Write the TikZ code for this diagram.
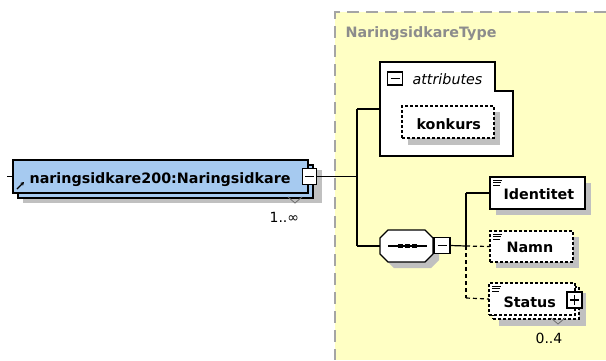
\documentclass[tikz,border=0pt]{standalone}
\usepackage{fontspec}
\setmainfont{DejaVu Sans}
\usetikzlibrary{arrows.meta}
\definecolor{ybg}{RGB}{255,255,196}
\definecolor{blu}{RGB}{166,202,240}
\definecolor{shd}{RGB}{192,192,192}
\definecolor{brd}{RGB}{165,165,165}
\definecolor{ttl}{RGB}{140,140,140}
\definecolor{vgr}{RGB}{110,110,110}
\begin{document}
\begin{tikzpicture}[x=1pt,y=-1pt,line width=1.2pt,
  lbl/.style={inner sep=0pt,anchor=base west,font=\fontsize{14.3}{16}\selectfont\bfseries},
  lblit/.style={inner sep=0pt,anchor=base west,font=\fontsize{14.3}{16}\selectfont\itshape},
  lblm/.style={inner sep=0pt,anchor=base west,font=\fontsize{14}{16}\selectfont},
  ebox/.style={draw,fill=white,rectangle,inner sep=0pt,outer sep=0pt},
  dsh/.style={dash pattern=on 3pt off 2pt},
  cdsh/.style={dash pattern=on 4pt off 3pt},
  icon/.style={draw,fill=white,rectangle,inner sep=0pt,outer sep=0pt,minimum width=14pt,minimum height=16pt},
  menu/.style={line width=0.8pt},
  mult/.style={draw=vgr,line width=0.8pt}]
\useasboundingbox (0,0) rectangle (606,360);
\fill[white] (0,0) rectangle (606,360);
% type region
\fill[ybg] (335,12) rectangle (606,360);
\draw[brd,line width=1.6pt,dash pattern=on 12pt off 7pt] (606,12) -- (335,12) -- (335,360);
\node[inner sep=0pt,anchor=base west,font=\fontsize{14.3}{16}\selectfont\bfseries,text=ttl] (ttype) at (345,37) {NaringsidkareType};

% main element
\fill[shd] (23,170) rectangle (322,203);
\node[ebox,fill=blu,minimum width=295pt,minimum height=33pt] (mback) at (165.5,181.5) {};
\node[ebox,fill=blu,minimum width=295pt,minimum height=33pt] (mfront) at (160.5,176.5) {};
\node[lbl] (mtext) at (29,183) {naringsidkare200:Naringsidkare};
\draw[-{Stealth[length=3.5pt,width=4pt]},line width=1.3pt] (17,189) -- (24,182);
\node[icon] (mminus) at (309.5,176.5) {};
\draw (mminus.center)+(-4.5,0) -- +(4.5,0);
\draw[mult] (288,197) -- (295,203) -- (302,197);
\node[lblm] (mmult) at (269,222) {1..∞};
\coordinate (mstub) at (7,176.5);
\draw (mstub) -- (mfront.west);

% junction
\coordinate (j1) at (357,176.5);
\coordinate (j1top) at (357,109);
\coordinate (j1bot) at (357,246);
\draw (mminus.east) -- (j1);
\draw (j1top) -- (j1bot);

% attributes
\draw[fill=white] (380,62) -- (495,62) -- (495,91) -- (513,91) -- (513,156) -- (380,156) -- cycle;
\coordinate (attrin) at (380,109);
\draw (j1top) -- (attrin);
\node[icon,minimum width=15pt,minimum height=13pt] (aminus) at (395,78.5) {};
\draw (aminus.center)+(-4.5,0) -- +(4.5,0);
\node[lblit] (atext) at (412,84) {attributes};
\fill[shd] (408,112) rectangle (500,145);
\node[ebox,dsh,minimum width=92pt,minimum height=32pt] (konk) at (448,122) {};
\node[lbl] (ktext) at (416,129) {konkurs};

% sequence
\fill[shd] (394,236) -- (431,236) -- (439,244) -- (439,260) -- (431,268) -- (394,268) -- (386,260) -- (386,244) -- cycle;
\draw[fill=white] (388,230) -- (425,230) -- (433,238) -- (433,254) -- (425,262) -- (388,262) -- (380,254) -- (380,238) -- cycle;
\coordinate (seqin) at (380,246);
\draw (j1bot) -- (seqin);
\draw (388,246) -- (427,246);
\fill (398,244) rectangle (403,248);
\fill (405,244) rectangle (410,248);
\fill (412,244) rectangle (417,248);
\node[icon,minimum width=16pt,minimum height=16pt] (sminus) at (442,245.5) {};
\draw (sminus.center)+(-4.5,0) -- +(4.5,0);

\coordinate (j2) at (466,246);
\coordinate (j2top) at (466,193);
\coordinate (j2bot) at (466,298);
\draw (sminus.east) -- (j2);
\draw (j2top) -- (j2);
\draw[cdsh] (j2) -- (j2bot);

% Identitet
\fill[shd] (496,183) rectangle (591,215);
\node[ebox,line width=1.6pt,minimum width=95pt,minimum height=32pt] (ident) at (537.5,193) {};
\draw[menu] (493,180) -- (502,180) (493,182.5) -- (501,182.5) (493,185) -- (500,185);
\node[lbl] (itext) at (503,199) {Identitet};
\draw (j2top) -- (ident.west);

% Namn
\fill[shd] (496,237) rectangle (579,268);
\node[ebox,dsh,minimum width=83pt,minimum height=31pt] (namn) at (531.5,246.5) {};
\draw[menu] (493,234) -- (502,234) (493,236.5) -- (501,236.5) (493,239) -- (500,239);
\node[lbl] (ntext) at (506,252) {Namn};
\draw[cdsh] (j2) -- (namn.west);

% Status
\fill[shd] (499,293) rectangle (586,326);
\node[ebox,dsh,minimum width=86pt,minimum height=32pt] (sback) at (536,303) {};
\node[ebox,dsh,minimum width=86pt,minimum height=32pt] (status) at (532,299) {};
\draw[menu] (492,286) -- (501,286) (492,288.5) -- (500,288.5) (492,291) -- (499,291);
\node[lbl] (stext) at (503,307) {Status};
\node[icon,minimum width=15pt,minimum height=16pt] (splus) at (574.5,300) {};
\draw (splus.center)+(-4.5,0) -- +(4.5,0);
\draw (splus.center)+(0,-5) -- +(0,5);
\draw[mult] (551,318) -- (558,324) -- (565,318);
\node[lblm] (smult) at (535,343) {0..4};
\draw[cdsh] (j2bot) -- (status.west);
\end{tikzpicture}
\end{document}
